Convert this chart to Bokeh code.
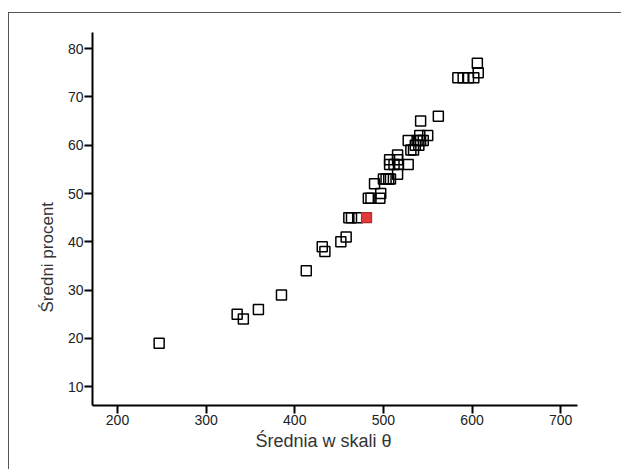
from bokeh.plotting import figure
from bokeh.models import Range1d, FixedTicker, Title
from bokeh.embed import file_html
from bokeh.resources import INLINE

# data
x_vals = [247, 335, 342, 359, 385, 413, 431, 434, 452, 458,
          461, 464, 471,
          483, 486, 496, 497, 490,
          500, 503, 506, 508,
          516,
          507, 512, 517, 528,
          507, 516,
          516,
          531, 534,
          536, 540,
          528, 538, 542, 545,
          541, 550,
          542, 562,
          584, 590, 596, 602,
          607, 606]
y_vals = [19, 25, 24, 26, 29, 34, 39, 38, 40, 41,
          45, 45, 45,
          49, 49, 49, 50, 52,
          53, 53, 53, 53,
          54,
          56, 56, 56, 56,
          57, 57,
          58,
          59, 59,
          60, 60,
          61, 61, 61, 61,
          62, 62,
          65, 66,
          74, 74, 74, 74,
          75, 77]
hl_x = [481]
hl_y = [45]

x_ticks = [200, 300, 400, 500, 600, 700]
y_ticks = [10, 20, 30, 40, 50, 60, 70, 80]
x_title = "Średnia w skali θ"
y_title = "Średni procent"

FONT = "Liberation Sans"

p = figure(width=613, height=457, output_backend="svg", toolbar_location=None,
           x_range=Range1d(171.8, 719), y_range=Range1d(6.1, 83.35),
           min_border_left=83, min_border_right=45, min_border_top=19,
           min_border_bottom=65,
           styles={"margin-left": "8px", "margin-top": "12px",
                   "border-left": "1px solid #555555",
                   "border-top": "1px solid #555555"})
p.outline_line_color = None
p.xgrid.visible = False
p.ygrid.visible = False
p.background_fill_color = "white"
p.border_fill_color = "white"

for ax in (p.xaxis[0], p.yaxis[0]):
    ax.axis_line_width = 2
    ax.axis_line_color = "black"
    ax.major_tick_line_width = 2
    ax.major_tick_line_color = "black"
    ax.major_tick_out = 8
    ax.major_tick_in = 0
    ax.minor_tick_line_color = None
    ax.major_label_text_font = FONT
    ax.major_label_text_font_size = "14px"
    ax.major_label_text_color = "#222222"
    ax.major_label_standoff = 1

p.xaxis[0].ticker = FixedTicker(ticks=x_ticks)
p.yaxis[0].ticker = FixedTicker(ticks=y_ticks)

p.scatter(x_vals, y_vals, marker="square", size=10, fill_color="white",
          fill_alpha=0.0, line_color="black", line_width=1.5)
p.scatter(hl_x, hl_y, marker="square", size=10, fill_color="#e23a3a",
          line_color="#b52a2a", line_width=1.2)

p.add_layout(Title(text=x_title, text_font=FONT, text_font_size="18px",
                   text_font_style="normal", text_color="#333333",
                   align="left", offset=163, standoff=3), "below")
p.add_layout(Title(text=y_title, text_font=FONT, text_font_size="17px",
                   text_font_style="normal", text_color="#333333",
                   align="left", offset=93, standoff=15), "left")

open("out.html", "w").write(file_html(p, INLINE))
